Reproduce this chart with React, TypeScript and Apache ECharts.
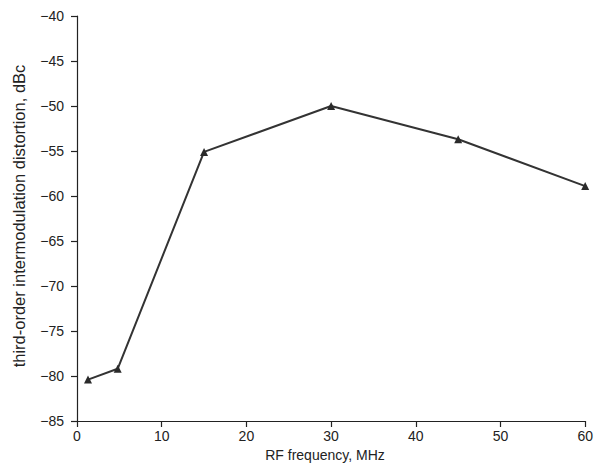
import React, { useEffect, useRef } from "react";
import * as echarts from "echarts";

const freqMHz = [1.3, 4.8, 15, 30, 45, 60];
const imd3 = [-80.4, -79.2, -55.1, -50, -53.7, -58.9];
const xTitle = "RF frequency, MHz";
const yTitle = "third-order intermodulation distortion, dBc";

export default function App() {
  const ref = useRef<HTMLDivElement>(null);
  useEffect(() => {
    const chart = echarts.init(ref.current!, null, { renderer: "svg" });
    const font = "'Liberation Sans', Arial, sans-serif";
    const axisCommon = {
      axisLine: { show: true, lineStyle: { color: "#222", width: 1.2 } },
      axisTick: { show: true, inside: false, length: 6, lineStyle: { color: "#222", width: 1.2 } },
      splitLine: { show: false },
      axisLabel: {
        color: "#222",
        fontSize: 14,
        fontFamily: font,
        formatter: (v: number) => String(v).replace("-", "\u2212"),
      },
    };
    chart.setOption({
      animation: false,
      backgroundColor: "#fff",
      grid: { left: 77, right: 9, top: 16, bottom: 48 },
      xAxis: {
        type: "value",
        min: 0,
        max: 60,
        interval: 10,
        ...axisCommon,
        axisLabel: { ...axisCommon.axisLabel, margin: 8 },
      },
      yAxis: {
        type: "value",
        min: -85,
        max: -40,
        interval: 5,
        ...axisCommon,
        axisLabel: { ...axisCommon.axisLabel, margin: 13 },
      },
      graphic: [
        {
          type: "text",
          x: 325,
          y: 455,
          style: {
            text: xTitle,
            fill: "#222",
            font: `14px ${font}`,
            textAlign: "center",
            textVerticalAlign: "middle",
          },
        },
        {
          type: "text",
          x: 19,
          y: 216,
          rotation: Math.PI / 2,
          style: {
            text: yTitle,
            fill: "#222",
            font: `16.5px ${font}`,
            textAlign: "center",
            textVerticalAlign: "middle",
          },
        },
      ],
      series: [
        {
          type: "line",
          data: freqMHz.map((x, i) => [x, imd3[i]]),
          symbol: "triangle",
          symbolSize: 8,
          itemStyle: { color: "#2a2a2a" },
          lineStyle: { color: "#333", width: 2 },
        },
      ],
    });
    return () => chart.dispose();
  }, []);
  return <div ref={ref} style={{ width: 596, height: 469, position: "absolute", left: 0, top: 0 }} />;
}
